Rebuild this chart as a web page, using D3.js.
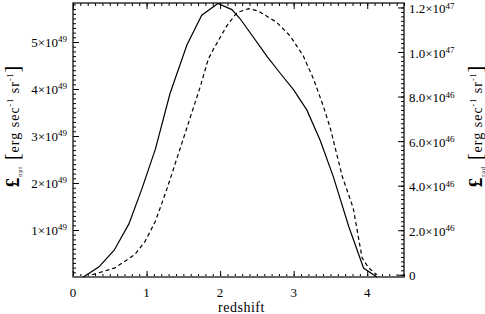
<!DOCTYPE html>
<html>
<head>
<meta charset="utf-8">
<script src="https://cdn.jsdelivr.net/npm/d3@7"></script>
<style>
  body { margin: 0; background: #fff; }
  text { font-family: "Liberation Serif", "DejaVu Serif", serif; fill: #000; }
</style>
</head>
<body>
<svg id="chart" width="485" height="314"></svg>
<script>
// optical luminosity (left axis, units of 1e49 erg/s/sr), solid line
const redshiftOpt = [0.14, 0.35, 0.56, 0.76, 0.94, 1.12, 1.32, 1.55, 1.75, 1.97, 2.16, 2.27, 2.64, 2.82, 3.00, 3.18, 3.36, 3.54, 3.75, 3.95, 4.13]
const lumOpt = [0, 0.21, 0.57, 1.13, 1.89, 2.72, 3.91, 4.94, 5.57, 5.82, 5.69, 5.50, 4.69, 4.33, 3.98, 3.55, 2.91, 2.13, 1.07, 0.19, 0]

// radio luminosity (right axis, units of 1e46 erg/s/sr), dashed line
const redshiftRad = [0.26, 0.57, 0.84, 0.98, 1.12, 1.28, 1.73, 1.84, 1.91, 2.09, 2.23, 2.39, 2.52, 2.77, 2.95, 3.13, 3.27, 3.40, 3.50, 3.66, 3.81, 3.93, 4.02, 4.13]
const lumRad = [0, 0.31, 0.91, 1.50, 2.40, 3.88, 8.44, 9.69, 10.13, 11.17, 11.77, 11.95, 11.84, 11.33, 10.73, 9.83, 8.79, 7.60, 6.56, 4.42, 2.99, 0.76, 0.31, 0]

const xTicks = [0, 1, 2, 3, 4]
const leftTicks = [1, 2, 3, 4, 5]
const leftLabels = [["1×10", "49"], ["2×10", "49"], ["3×10", "49"], ["4×10", "49"], ["5×10", "49"]]
const rightTicks = [0, 2, 4, 6, 8, 10, 12]
const rightLabels = [["0", ""], ["2.0×10", "46"], ["4.0×10", "46"], ["6.0×10", "46"], ["8.0×10", "46"], ["1.0×10", "47"], ["1.2×10", "47"]]

const svg = d3.select('#chart')
const margin = {top: 3, right: 81, bottom: 37, left: 73}
const W = 485, H = 314
const x0 = margin.left, x1 = W - margin.right
const y0 = H - margin.bottom, y1 = margin.top

const x = d3.scaleLinear().domain([0, 4.5]).range([x0, x1])
const yL = d3.scaleLinear().domain([0, 5.83]).range([y0, y1])
const yR = d3.scaleLinear().domain([-0.1, 12.2]).range([y0, y1])

// minor tick positions
const minorX = d3.range(0, 4.5001, 0.1)
const minorL = d3.range(0, 5.83, 0.1)
const minorR = d3.range(0, 12.2, 0.2)

function ticks(g, axis) { g.call(axis); g.select('.domain').remove(); g.selectAll('line').attr('stroke', '#000') }

// bottom & top
svg.append('g').attr('transform', `translate(0,${y0})`)
    .call(ticks, d3.axisBottom(x).tickValues(minorX).tickSize(-3).tickFormat(''))
svg.append('g').attr('transform', `translate(0,${y0})`)
    .call(ticks, d3.axisBottom(x).tickValues(xTicks).tickSize(-6).tickFormat(''))
svg.append('g').attr('transform', `translate(0,${y1})`)
    .call(ticks, d3.axisTop(x).tickValues(minorX).tickSize(-3).tickFormat(''))
svg.append('g').attr('transform', `translate(0,${y1})`)
    .call(ticks, d3.axisTop(x).tickValues(xTicks).tickSize(-6).tickFormat(''))
// left
svg.append('g').attr('transform', `translate(${x0},0)`)
    .call(ticks, d3.axisLeft(yL).tickValues(minorL).tickSize(-3).tickFormat(''))
svg.append('g').attr('transform', `translate(${x0},0)`)
    .call(ticks, d3.axisLeft(yL).tickValues(leftTicks).tickSize(-6).tickFormat(''))
// right
svg.append('g').attr('transform', `translate(${x1},0)`)
    .call(ticks, d3.axisRight(yR).tickValues(minorR).tickSize(-3).tickFormat(''))
svg.append('g').attr('transform', `translate(${x1},0)`)
    .call(ticks, d3.axisRight(yR).tickValues(rightTicks).tickSize(-6).tickFormat(''))

// frame
svg.append('rect')
    .attr('x', x0).attr('y', y1).attr('width', x1 - x0).attr('height', y0 - y1)
    .attr('fill', 'none').attr('stroke', '#000').attr('stroke-width', 1.2)
svg.append('line')
    .attr('x1', x0).attr('x2', x1).attr('y1', y0).attr('y2', y0)
    .attr('stroke', '#666').attr('stroke-width', 2)

// tick labels
svg.selectAll('.xl').data(xTicks).join('text')
    .attr('x', d => x(d)).attr('y', y0 + 20)
    .attr('text-anchor', 'middle').attr('font-size', 13)
    .text(d => d)

function sciLabel(sel, anchor) {
    sel.attr('font-size', 13).attr('text-anchor', anchor)
    sel.append('tspan').attr('dy', '0.35em').text(d => d[0])
    sel.append('tspan').attr('dy', '-0.5em').attr('font-size', 9).text(d => d[1])
}

svg.selectAll('.yl').data(leftTicks.map((t, i) => [yL(t), leftLabels[i]])).join('text')
    .attr('x', x0 - 6).attr('y', d => d[0])
    .datum(d => d[1])
    .call(sciLabel, 'end')

svg.selectAll('.yr').data(rightTicks.map((t, i) => [yR(t), rightLabels[i]])).join('text')
    .attr('x', x1 + 5).attr('y', d => d[0] + 1)
    .datum(d => d[1])
    .call(sciLabel, 'start')

// axis titles
svg.append('text').attr('x', (x0 + x1) / 2 + 3).attr('y', H - 2)
    .attr('text-anchor', 'middle').attr('font-size', 14).attr('letter-spacing', 0.5).text('redshift')

function yTitle(g, sub) {
    const t = g.append('text').attr('text-anchor', 'middle').attr('font-size', 14).attr('letter-spacing', 1)
    t.append('tspan').attr('font-size', 19).attr('font-weight', 'bold').text('£')
    t.append('tspan').attr('font-size', 6).attr('dy', 3).text(sub)
    t.append('tspan').attr('dy', -3).attr('font-size', 20).text(' [')
    t.append('tspan').text('erg sec')
    t.append('tspan').attr('font-size', 8).attr('dy', -6).text('-1')
    t.append('tspan').attr('dy', 6).text('  sr')
    t.append('tspan').attr('font-size', 8).attr('dy', -6).text('-1')
    t.append('tspan').attr('dy', 6).attr('font-size', 20).text(']')
}
svg.append('g').attr('transform', 'translate(19,126) rotate(-90)').call(yTitle, 'opt')
svg.append('g').attr('transform', 'translate(482,126) rotate(-90)').call(yTitle, 'rad')

// curves
const lineL = d3.line().x(d => x(d[0])).y(d => yL(d[1]))
const lineR = d3.line().x(d => x(d[0])).y(d => yR(d[1]))

svg.append('path')
    .datum(d3.zip(redshiftOpt, lumOpt))
    .attr('d', lineL).attr('fill', 'none').attr('stroke', '#000').attr('stroke-width', 1.2)

svg.append('path')
    .datum(d3.zip(redshiftRad, lumRad))
    .attr('d', lineR).attr('fill', 'none').attr('stroke', '#000').attr('stroke-width', 1.2)
    .attr('stroke-dasharray', '4,3')
</script>
</body>
</html>
